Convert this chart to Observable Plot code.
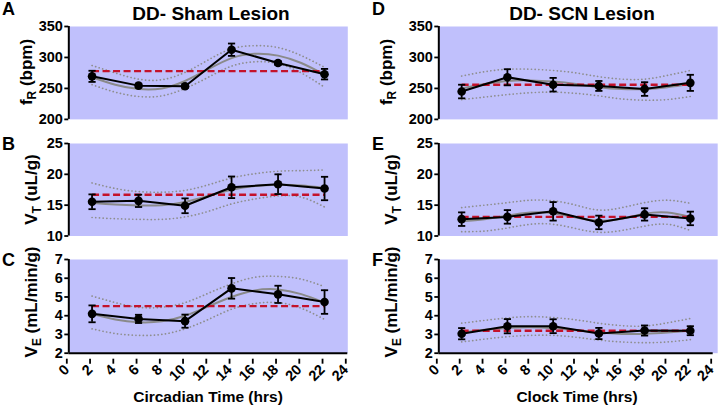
<!DOCTYPE html>
<html>
<head>
<meta charset="utf-8">
<script src="https://cdn.jsdelivr.net/npm/d3@7"></script>
<script src="https://cdn.jsdelivr.net/npm/@observablehq/plot@0.6"></script>
<style>
  html, body { margin: 0; padding: 0; background: #fff; }
  #root { position: relative; width: 720px; height: 410px; overflow: hidden; font-family: "Liberation Sans", Arial, sans-serif; }
  #root > svg { position: absolute; }
  #overlay { position: absolute; left: 0; top: 0; pointer-events: none; }
</style>
</head>
<body>
<div id="root"></div>
<script>
// ---------- data ----------
const hours = [2, 6, 10, 14, 18, 22];
const fitHours = [2, 4, 6, 8, 10, 12, 14, 16, 18, 20, 22];
const xTicks = [0, 2, 4, 6, 8, 10, 12, 14, 16, 18, 20, 22, 24];

// Sham lesion (Circadian time)
const shamFR = [269.5, 254.5, 253.5, 312.5, 291, 273];
const shamFRErr = [9, 3, 3, 10, 3, 8.5];
const shamFRMesor = 278;
const shamFRFit = [268, 256, 249, 250, 262, 281, 299, 306, 303, 291, 272];
const shamFRUpper = [287, 275, 265, 264, 276, 296, 314, 319, 316, 303, 284];
const shamFRLower = [256, 244, 237, 238, 250, 268, 286, 293, 290, 275, 252];

const shamVT = [15.55, 15.7, 14.9, 17.9, 18.4, 17.7];
const shamVTErr = [1.2, 1.0, 1.2, 1.75, 1.6, 1.9];
const shamVTMesor = 16.7;
const shamVTFit = [15.4, 15.1, 14.95, 15.0, 15.5, 16.5, 17.5, 18.1, 18.3, 18.2, 17.8];
const shamVTUpper = [18.6, 17.7, 17.2, 17.1, 17.4, 18.3, 19.4, 20.1, 20.5, 20.6, 20.7];
const shamVTLower = [13.0, 12.8, 12.7, 12.7, 13.1, 14.0, 15.2, 16.0, 16.5, 16.3, 14.7];

const shamVE = [4.1, 3.83, 3.71, 5.46, 5.14, 4.73];
const shamVEErr = [0.45, 0.22, 0.35, 0.55, 0.46, 0.63];
const shamVEMesor = 4.51;
const shamVEFit = [4.1, 3.8, 3.65, 3.7, 4.0, 4.5, 5.0, 5.35, 5.4, 5.15, 4.7];
const shamVEUpper = [5.05, 4.7, 4.45, 4.45, 4.7, 5.2, 5.7, 6.05, 6.1, 5.95, 5.55];
const shamVELower = [3.3, 3.05, 2.95, 3.0, 3.3, 3.8, 4.35, 4.65, 4.7, 4.4, 3.8];

// SCN lesion (Clock time)
const scnFR = [245, 268, 256, 254, 249, 259];
const scnFRErr = [11, 13, 11, 8, 11, 13];
const scnFRMesor = 256;
const scnFRFit = [250, 257, 262, 263, 261, 257, 252, 249, 249, 252, 257];
const scnFRUpper = [270, 277, 281, 281, 279, 275, 269, 265, 265, 271, 279];
const scnFRLower = [232, 236, 240, 243, 244, 242, 238, 233, 231, 232, 237];

const scnVT = [12.73, 13.1, 14.0, 12.2, 13.5, 12.85];
const scnVTErr = [1.1, 1.1, 1.5, 1.1, 1.0, 1.1];
const scnVTMesor = 13.1;
const scnVTFit = [12.4, 12.7, 13.3, 13.8, 13.7, 13.0, 12.5, 12.8, 13.6, 13.8, 13.1];
const scnVTUpper = [14.6, 15.0, 15.4, 15.8, 15.7, 15.0, 14.2, 14.6, 15.4, 15.8, 15.3];
const scnVTLower = [10.7, 10.8, 11.3, 11.9, 11.9, 11.2, 10.6, 10.9, 11.6, 11.9, 10.9];

const scnVE = [3.04, 3.44, 3.44, 3.05, 3.21, 3.2];
const scnVEErr = [0.3, 0.38, 0.37, 0.3, 0.27, 0.24];
const scnVEMesor = 3.2;
const scnVEFit = [3.1, 3.25, 3.35, 3.38, 3.33, 3.22, 3.1, 3.03, 3.03, 3.1, 3.2];
const scnVEUpper = [3.6, 3.75, 3.88, 3.95, 3.9, 3.78, 3.6, 3.47, 3.45, 3.62, 3.85];
const scnVELower = [2.6, 2.75, 2.88, 2.95, 2.95, 2.85, 2.7, 2.6, 2.56, 2.6, 2.72];

const frDomain = [200, 350], frTicks = [200, 250, 300, 350];
const vtDomain = [10, 25], vtTicks = [10, 15, 20, 25];
const veDomain = [2, 7], veTicks = [2, 3, 4, 5, 6, 7];

// ---------- style / layout ----------
const FONT = "'Liberation Sans', Arial, Helvetica, sans-serif";
const BG = "#c0c0fc";
const cols = [{left: 0, x0: 68.3, x1: 347.3, ext: 0}, {left: 360, x0: 438.3, x1: 712.7, ext: 4.5}];
const rows = [{y0: 26.3, y1: 119.2}, {y0: 143, y1: 235.5}, {y0: 259, y1: 352.7}];

const capSymbol = {
  draw(ctx, size) {
    const w = Math.sqrt(size / Math.PI);
    ctx.moveTo(-w, 0);
    ctx.lineTo(w, 0);
  }
};

function panel(col, row, vals, errs, mesor, fit, upper, lower, domain, ticks, bottom) {
  const c = cols[col], r = rows[row];
  const mt = 12, mb = bottom ? 46 : 6;
  const pts = hours.map((h, i) => ({h, v: vals[i], lo: vals[i] - errs[i], hi: vals[i] + errs[i]}));
  const curve = fitHours.map((h, i) => ({h, fit: fit[i], up: upper[i], lo: lower[i]}));
  const marks = [
    Plot.frame({fill: BG, stroke: null, insetRight: -c.ext}),
    Plot.line(curve, {x: "h", y: "up", curve: "natural", stroke: "#8e8e8e", strokeWidth: 1.7, strokeDasharray: "0.1,3.6", strokeLinecap: "round"}),
    Plot.line(curve, {x: "h", y: "lo", curve: "natural", stroke: "#8e8e8e", strokeWidth: 1.7, strokeDasharray: "0.1,3.6", strokeLinecap: "round"}),
    Plot.line(curve, {x: "h", y: "fit", curve: "natural", stroke: "#8a8a8a", strokeWidth: 2}),
    Plot.link([mesor], {x1: () => hours[0], x2: () => hours[hours.length - 1], y1: d => d, y2: d => d, stroke: "#c4122b", strokeWidth: 2.4, strokeDasharray: "7,3.5"}),
    Plot.line(pts, {x: "h", y: "v", stroke: "#000", strokeWidth: 2}),
    Plot.ruleX(pts, {x: "h", y1: "lo", y2: "hi", stroke: "#000", strokeWidth: 1.8}),
    Plot.dot(pts, {x: "h", y: "hi", symbol: capSymbol, r: 3.6, stroke: "#000", strokeWidth: 1.8, fill: "none"}),
    Plot.dot(pts, {x: "h", y: "lo", symbol: capSymbol, r: 3.6, stroke: "#000", strokeWidth: 1.8, fill: "none"}),
    Plot.dot(pts, {x: "h", y: "v", r: 4.3, fill: "#000", stroke: null}),
    Plot.axisY({ticks, tickSize: 4, tickPadding: 2, tickFormat: d => String(d), label: null, fontSize: 14.5, fontWeight: "bold", strokeWidth: 1.8, fill: "#000"}),
    Plot.ruleX([0], {stroke: "#000", strokeWidth: 2})
  ];
  if (bottom) {
    marks.push(Plot.axisX({ticks: xTicks, tickSize: 5, tickPadding: 3, tickRotate: -45, tickFormat: d => String(d), label: null, fontSize: 14.5, fontWeight: "bold", strokeWidth: 1.8, fill: "#000", dx: -2, dy: 6}));
    marks.push(Plot.ruleY([domain[0]], {stroke: "#000", strokeWidth: 2}));
  }
  const plot = Plot.plot({
    width: 360,
    height: (r.y1 - r.y0) + mt + mb,
    marginLeft: c.x0 - c.left,
    marginRight: c.left + 360 - c.x1,
    marginTop: mt,
    marginBottom: mb,
    x: {domain: [0, 24], axis: bottom ? undefined : null},
    y: {domain, label: null},
    style: {background: "transparent", fontFamily: FONT, fontSize: "14.5px", fontWeight: "bold", color: "#000", overflow: "visible"},
    marks
  });
  plot.style.left = c.left + "px";
  plot.style.top = (r.y0 - mt) + "px";
  return plot;
}

const root = document.getElementById("root");
root.append(
  panel(0, 0, shamFR, shamFRErr, shamFRMesor, shamFRFit, shamFRUpper, shamFRLower, frDomain, frTicks, false),
  panel(0, 1, shamVT, shamVTErr, shamVTMesor, shamVTFit, shamVTUpper, shamVTLower, vtDomain, vtTicks, false),
  panel(0, 2, shamVE, shamVEErr, shamVEMesor, shamVEFit, shamVEUpper, shamVELower, veDomain, veTicks, true),
  panel(1, 0, scnFR, scnFRErr, scnFRMesor, scnFRFit, scnFRUpper, scnFRLower, frDomain, frTicks, false),
  panel(1, 1, scnVT, scnVTErr, scnVTMesor, scnVTFit, scnVTUpper, scnVTLower, vtDomain, vtTicks, false),
  panel(1, 2, scnVE, scnVEErr, scnVEMesor, scnVEFit, scnVEUpper, scnVELower, veDomain, veTicks, true)
);

// ---------- text overlay ----------
const titles = ["DD- Sham Lesion", "DD- SCN Lesion"];
const xTitles = ["Circadian Time (hrs)", "Clock Time (hrs)"];
const letters = [["A", "B", "C"], ["D", "E", "F"]];
const yLabels = [["f", "R", " (bpm)"], ["V", "T", " (uL/g)"], ["V", "E", " (mL/min/g)"]];

const ov = d3.create("svg").attr("id", "overlay").attr("width", 720).attr("height", 410)
  .style("font-family", FONT).style("font-weight", "bold").attr("fill", "#000");
const titleX = [211, 582], xTitleX = [208, 577], letterX = [2, 372];
const letterY = [15, 150, 266];
const yLabelX = [[32, 37, 37], [392, 397, 397]];
const yLabelY = [72, 189.5, 302];
const yLabelSize = [17, 17, 17];
for (let c = 0; c < 2; c++) {
  ov.append("text").attr("x", titleX[c]).attr("y", 20).attr("text-anchor", "middle").attr("font-size", 19).text(titles[c]);
  ov.append("text").attr("x", xTitleX[c]).attr("y", 402).attr("text-anchor", "middle").attr("font-size", 15.5).text(xTitles[c]);
  for (let r = 0; r < 3; r++) {
    ov.append("text").attr("x", letterX[c]).attr("y", letterY[r]).attr("font-size", 18).text(letters[c][r]);
    const t = ov.append("text").attr("text-anchor", "middle").attr("font-size", yLabelSize[r])
      .attr("transform", `translate(${yLabelX[c][r]},${yLabelY[r]}) rotate(-90)`);
    t.append("tspan").text(yLabels[r][0]);
    t.append("tspan").attr("font-size", yLabelSize[r] * 0.7).attr("dy", 3.5).text(yLabels[r][1]);
    t.append("tspan").attr("dy", -3.5).text(yLabels[r][2]);
  }
}
root.append(ov.node());
</script>
</body>
</html>
